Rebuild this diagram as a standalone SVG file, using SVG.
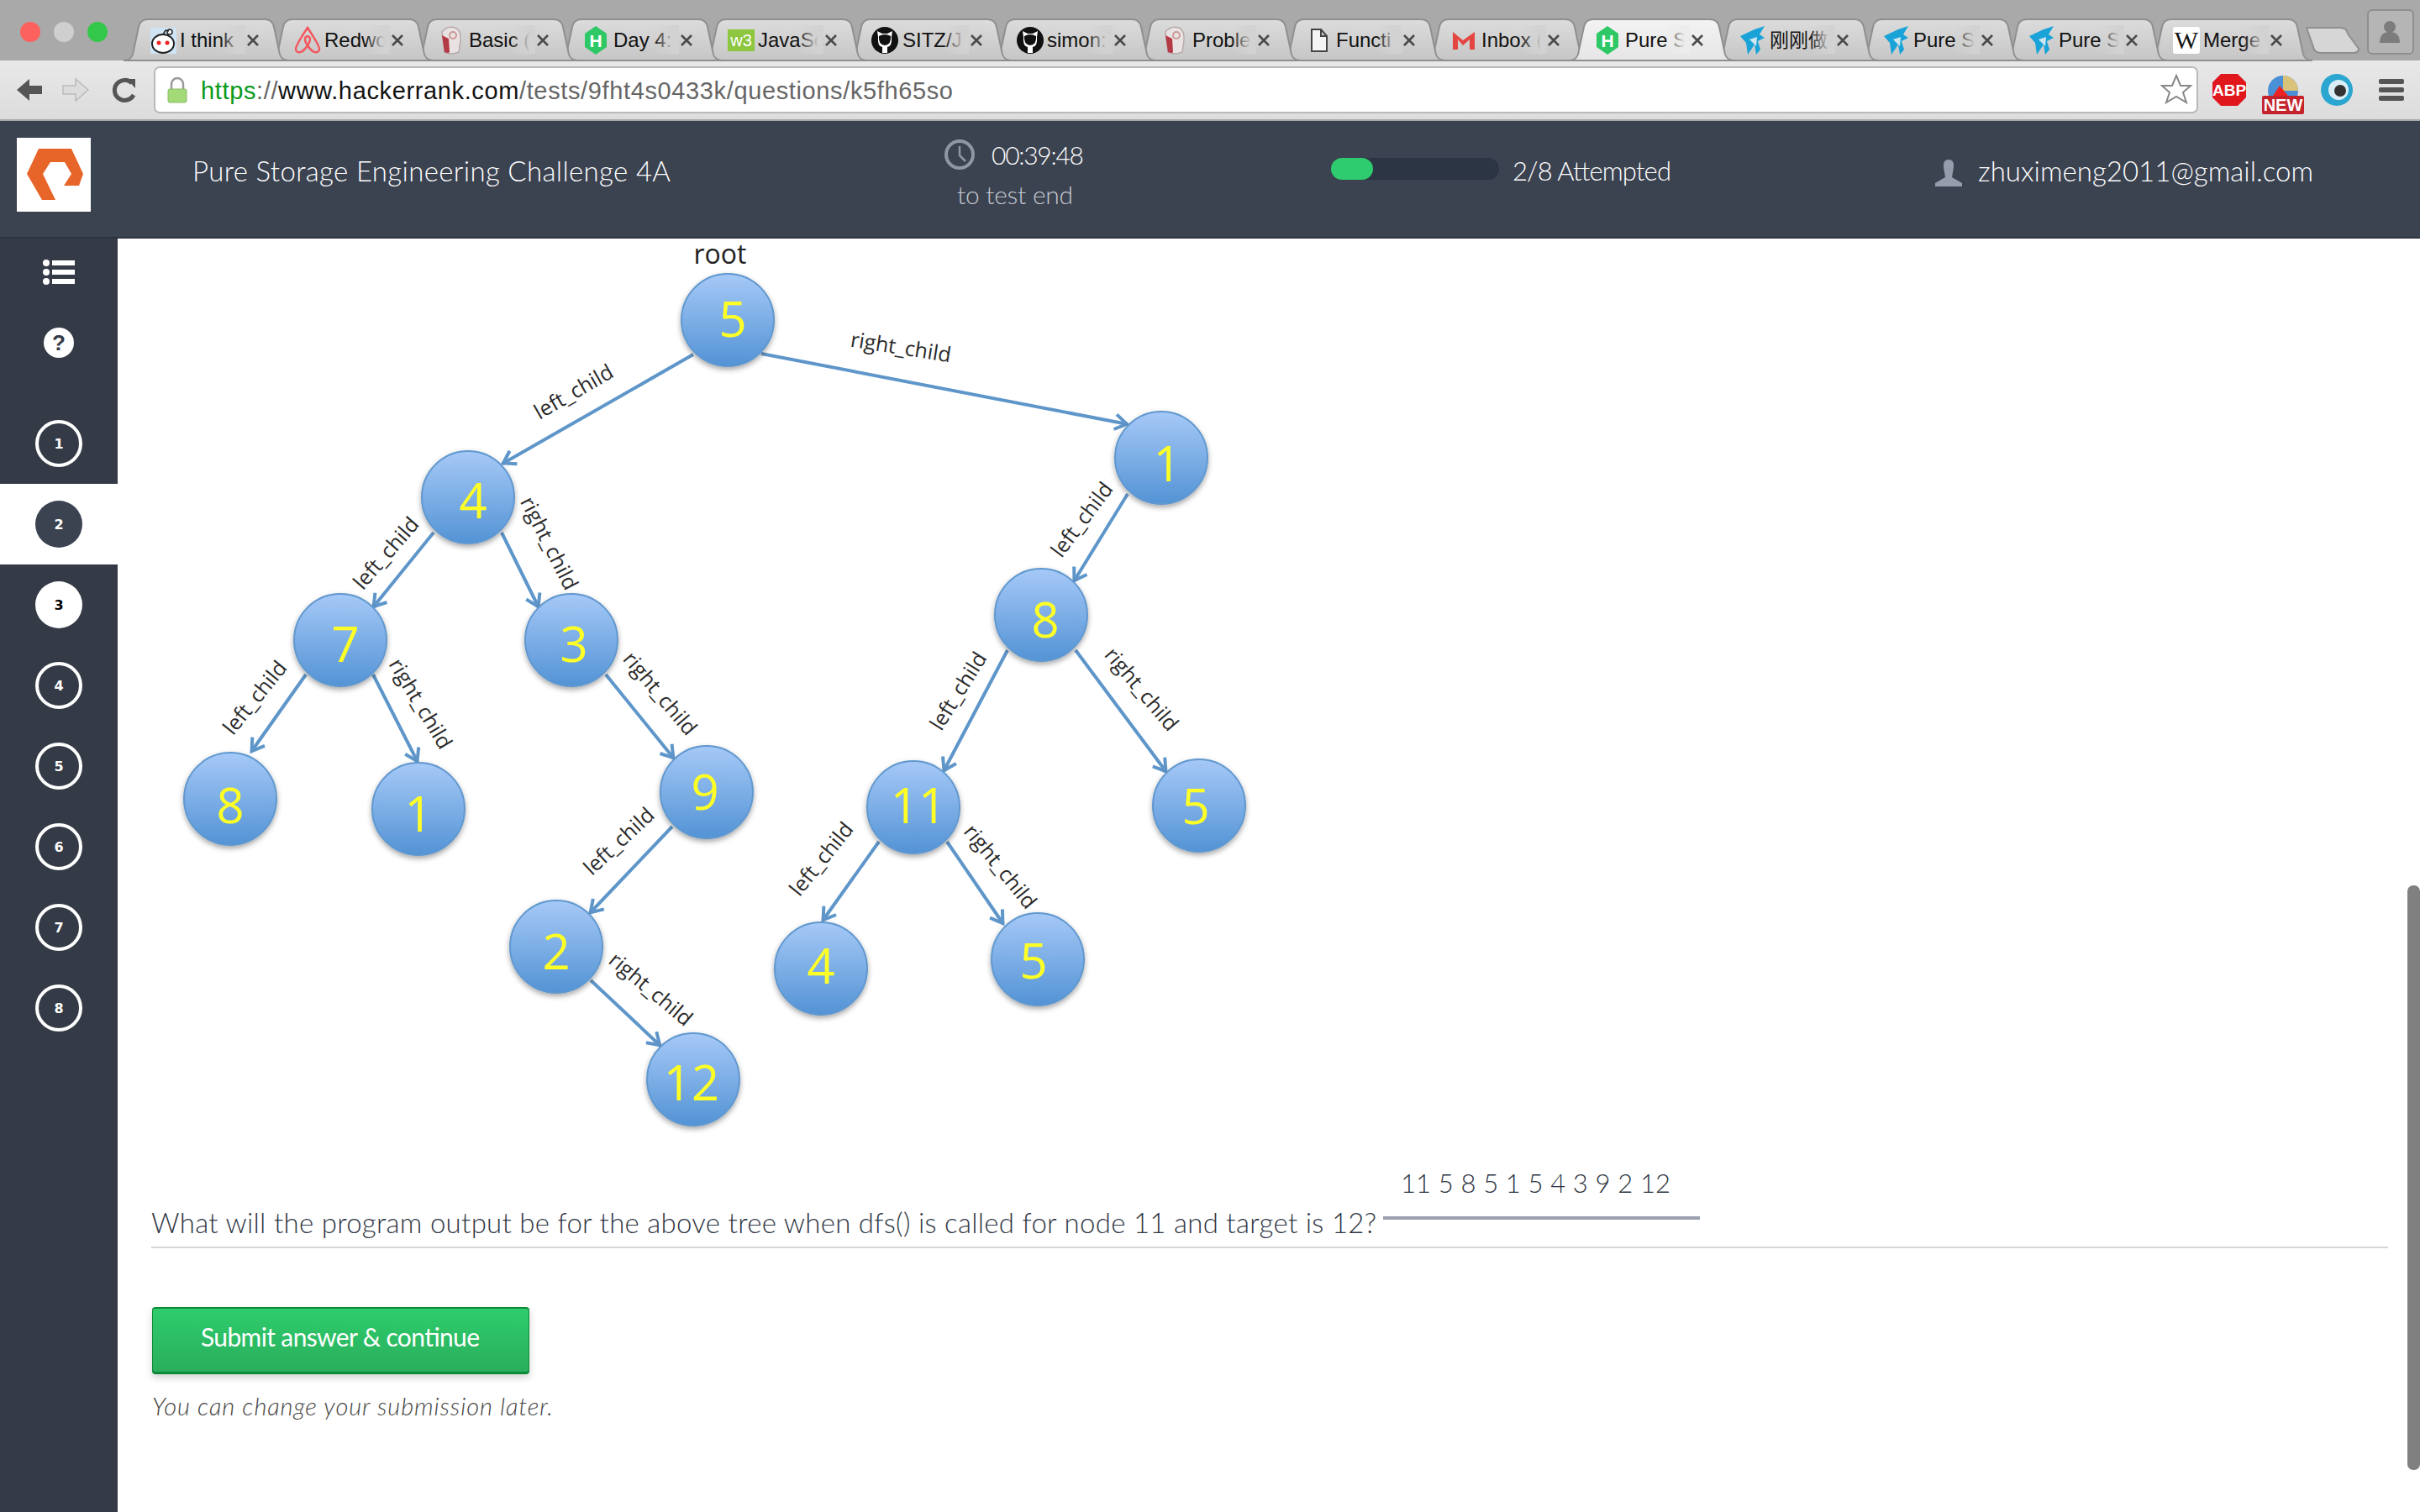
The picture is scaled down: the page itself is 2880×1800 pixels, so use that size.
<svg xmlns="http://www.w3.org/2000/svg" xmlns:xlink="http://www.w3.org/1999/xlink" width="2880" height="1800" viewBox="0 0 2880 1800">
<defs>
<linearGradient id="gTab" x1="0" y1="0" x2="0" y2="1"><stop offset="0" stop-color="#dcdcdc"/><stop offset="1" stop-color="#c6c6c6"/></linearGradient>
<linearGradient id="gActive" x1="0" y1="0" x2="0" y2="1"><stop offset="0" stop-color="#f3f3f3"/><stop offset="1" stop-color="#e6e6e6"/></linearGradient>
<linearGradient id="gBar" x1="0" y1="0" x2="0" y2="1"><stop offset="0" stop-color="#e8e8e8"/><stop offset="1" stop-color="#dcdcdc"/></linearGradient>
<linearGradient id="gNode" x1="0" y1="0" x2="0" y2="1"><stop offset="0" stop-color="#a6c9f7"/><stop offset="1" stop-color="#5393d5"/></linearGradient>
<linearGradient id="gBtn" x1="0" y1="0" x2="0" y2="1"><stop offset="0" stop-color="#2ecc6c"/><stop offset="1" stop-color="#2aae5c"/></linearGradient>
<linearGradient id="gFade" x1="0" y1="0" x2="1" y2="0"><stop offset="0" stop-color="#d2d2d2" stop-opacity="0"/><stop offset="0.8" stop-color="#d2d2d2"/></linearGradient>
<linearGradient id="gFadeA" x1="0" y1="0" x2="1" y2="0"><stop offset="0" stop-color="#ececec" stop-opacity="0"/><stop offset="0.8" stop-color="#ececec"/></linearGradient>
<filter id="shadow" x="-20%" y="-20%" width="140%" height="140%"><feDropShadow dx="0" dy="3" stdDeviation="3" flood-color="#000" flood-opacity="0.35"/></filter>
<filter id="btnShadow" x="-5%" y="-10%" width="110%" height="130%"><feDropShadow dx="0" dy="4" stdDeviation="4" flood-color="#000" flood-opacity="0.18"/></filter>
<marker id="arrow" markerUnits="userSpaceOnUse" markerWidth="30" markerHeight="30" refX="21" refY="15" orient="auto" viewBox="0 0 30 30"><path d="M6,6 L20,15 L6,24" fill="none" stroke="#5f96ca" stroke-width="4"/></marker>
<path id="tab" d="M0,72 C8,72 11,68 12,60 L18,32 Q20,23 29,23 H168 Q177,23 179,32 L185,60 C186,68 189,72 197,72 Z"/>
<g id="hex"><path d="M0,-17 L13,-8 V8 L0,17 L-13,8 V-8 Z" fill="#2ec866"/><text class="hexh" y="8">H</text></g>
<g id="gh"><circle r="16" fill="#111"/><path d="M-8,-4 L-9,-11 L-3,-8 H3 L9,-11 L8,-4 Q9,7 3,8 V15 H-3 V8 Q-9,7 -8,-4 Z" fill="#fff"/><path d="M-7,-5 Q0,-9 7,-5 Q8,5 0,6 Q-8,5 -7,-5 Z" fill="#111"/></g>
<g id="basic"><path d="M-11,-10 Q-5,-18 5,-15 Q12,-12 11,0 L9,14 Q0,18 -8,14 Z" fill="#e9e2e2" stroke="#b9a9a9" stroke-width="1.5"/><path d="M-11,-6 L-8,14 Q-3,16 -2,14 L-3,-2 Z" fill="#b33a46"/><circle cx="2" cy="-6" r="4" fill="none" stroke="#c99" stroke-width="2"/></g>
<g id="cn"><path d="M-15,-4 L2,-12 L14,-16 L8,-6 L14,-2 L6,2 L9,12 L4,18 L2,6 L-6,18 L-8,4 Z" fill="#19a3d8"/><path d="M-4,0 L5,-3 L4,8 Z" fill="#cfe6f1"/></g>
<g id="x"><path d="M-6,-6 L6,6 M6,-6 L-6,6" stroke="#4a4a4a" stroke-width="2.6" fill="none"/></g>
</defs>
<style>
text{font-family:"Liberation Sans",Arial,sans-serif}
.tabt{font-size:24px;fill:#111}
.tabc{font-family:"Noto Sans CJK SC","Liberation Sans",sans-serif;font-size:23px;fill:#111}
.hexh{font-size:21px;font-weight:700;fill:#fff;text-anchor:middle}
.hdr{font-family:Lato,"Liberation Sans",sans-serif;font-weight:300;font-size:33px;fill:#fff}
.side{font-size:16px;font-weight:700;text-anchor:middle;fill:#fff;font-family:"DejaVu Sans",sans-serif}
.ring{fill:none;stroke:#fff;stroke-width:4}
.node{fill:url(#gNode);stroke:#6098cf;stroke-width:2;filter:url(#shadow)}
.num{font-family:"Open Sans","Liberation Sans",sans-serif;font-size:58px;fill:#ffff26;text-anchor:middle}
.lbl{font-family:"Open Sans","Liberation Sans",sans-serif;font-size:25px;fill:#2a2a2a;text-anchor:middle}
.root{font-family:"Open Sans","Liberation Sans",sans-serif;font-size:32px;fill:#222;text-anchor:middle}
.edge{stroke:#5f96ca;stroke-width:4;fill:none;marker-end:url(#arrow)}
.body{font-family:Lato,"Liberation Sans",sans-serif;font-weight:300;fill:#2f3644}
.btn{font-family:Lato,"Liberation Sans",sans-serif;font-size:30px;fill:#fff}
.note{font-family:Lato,"Liberation Sans",sans-serif;font-weight:300;font-style:italic;font-size:29px;fill:#444}
.wik{font-family:"Liberation Serif",serif;font-size:30px;fill:#111;text-anchor:middle}
</style>
<rect width="2880" height="1800" fill="#fff"/>
<g id="browser-chrome">
<rect width="2880" height="74" fill="#a9a9a9"/>
<circle cx="36" cy="38" r="12" fill="#fc615d"/><circle cx="76" cy="38" r="12" fill="#cfcfcf"/><circle cx="116" cy="38" r="12" fill="#34c84a"/>
<rect y="72" width="2880" height="72" fill="url(#gBar)"/>
<rect y="142" width="2880" height="2" fill="#a8a8a8"/>
<g id="tabs" fill="url(#gTab)" stroke="#8f8f8f" stroke-width="2">
<use xlink:href="#tab" x="2555"/><use xlink:href="#tab" x="2383"/><use xlink:href="#tab" x="2211"/><use xlink:href="#tab" x="2039"/><use xlink:href="#tab" x="1695"/><use xlink:href="#tab" x="1523"/><use xlink:href="#tab" x="1351"/><use xlink:href="#tab" x="1179"/><use xlink:href="#tab" x="1007"/><use xlink:href="#tab" x="835"/><use xlink:href="#tab" x="663"/><use xlink:href="#tab" x="491"/><use xlink:href="#tab" x="319"/><use xlink:href="#tab" x="147"/>
<use xlink:href="#tab" x="1867" fill="url(#gActive)"/>
</g>
<path d="M2745,33 H2785 Q2793,33 2794,40 L2807,58 Q2807,63 2800,63 H2762 Q2754,63 2753,56 Z" fill="#d6d6d6" stroke="#8f8f8f" stroke-width="2"/>
<g id="tab-labels">
<text class="tabt" x="214" y="56">I think</text><text class="tabt" x="386" y="56">Redwo</text><text class="tabt" x="558" y="56">Basic (</text><text class="tabt" x="730" y="56">Day 4:</text><text class="tabt" x="902" y="56">JavaSc</text><text class="tabt" x="1074" y="56">SITZ/J</text><text class="tabt" x="1246" y="56">simon:</text><text class="tabt" x="1419" y="56">Proble</text><text class="tabt" x="1590" y="56">Functi</text><text class="tabt" x="1763" y="56">Inbox (</text><text class="tabt" x="1934" y="56">Pure S</text><text class="tabc" x="2106" y="56">刚刚做</text><text class="tabt" x="2277" y="56">Pure S</text><text class="tabt" x="2450" y="56">Pure S</text><text class="tabt" x="2622" y="56">Merge</text>
</g>
<g id="tab-fades" fill="url(#gFade)">
<rect x="262" y="30" width="30" height="34"/><rect x="434" y="30" width="30" height="34"/><rect x="607" y="30" width="30" height="34"/><rect x="778" y="30" width="30" height="34"/><rect x="950" y="30" width="30" height="34"/><rect x="1123" y="30" width="30" height="34"/><rect x="1294" y="30" width="30" height="34"/><rect x="1465" y="30" width="30" height="34"/><rect x="1638" y="30" width="30" height="34"/><rect x="1810" y="30" width="30" height="34"/><rect x="1981" y="30" width="30" height="34" fill="url(#gFadeA)"/><rect x="2154" y="30" width="30" height="34"/><rect x="2326" y="30" width="30" height="34"/><rect x="2498" y="30" width="30" height="34"/><rect x="2670" y="30" width="30" height="34"/>
</g>
<g id="tab-closes">
<use xlink:href="#x" x="301" y="48"/><use xlink:href="#x" x="473" y="48"/><use xlink:href="#x" x="646" y="48"/><use xlink:href="#x" x="817" y="48"/><use xlink:href="#x" x="989" y="48"/><use xlink:href="#x" x="1162" y="48"/><use xlink:href="#x" x="1333" y="48"/><use xlink:href="#x" x="1504" y="48"/><use xlink:href="#x" x="1677" y="48"/><use xlink:href="#x" x="1849" y="48"/><use xlink:href="#x" x="2020" y="48"/><use xlink:href="#x" x="2193" y="48"/><use xlink:href="#x" x="2365" y="48"/><use xlink:href="#x" x="2537" y="48"/><use xlink:href="#x" x="2709" y="48"/>
</g>
<g id="tab-icons">
<rect x="179" y="33" width="31" height="31" fill="#cfe4f5"/><ellipse cx="194" cy="52" rx="13" ry="11" fill="#fff" stroke="#222" stroke-width="2"/><circle cx="189" cy="51" r="2.5" fill="#e22"/><circle cx="199" cy="51" r="2.5" fill="#e22"/><circle cx="202" cy="38" r="3" fill="#fff" stroke="#222" stroke-width="1.5"/><path d="M194,41 L197,36 L201,37" fill="none" stroke="#222" stroke-width="1.5"/>
<path d="M366,33 C358,45 351,56 352,59 C353,64 360,64 366,54 C372,64 379,64 380,59 C381,56 374,45 366,33 Z M366,54 C362,48 362,44 366,43 C370,44 370,48 366,54 Z" fill="none" stroke="#f2585f" stroke-width="2.5"/>
<use xlink:href="#basic" x="537" y="48"/><use xlink:href="#hex" x="709" y="48"/>
<rect x="866" y="35" width="32" height="26" fill="#8dc63f"/><text x="882" y="55" font-size="20" fill="#fff" text-anchor="middle">w3</text>
<use xlink:href="#gh" x="1053" y="48"/><use xlink:href="#gh" x="1226" y="48"/><use xlink:href="#basic" x="1398" y="48"/>
<path d="M1561,35 H1572 L1579,43 V61 H1561 Z M1572,35 V43 H1579" fill="#f4f4f4" stroke="#444" stroke-width="2"/>
<path d="M1729,59 V38 L1741,48 L1755,38 V59 H1749 V47 L1741,54 L1735,47 V59 Z" fill="#e2463f"/>
<use xlink:href="#hex" x="1913" y="48"/><use xlink:href="#cn" x="2086" y="47"/><use xlink:href="#cn" x="2257" y="47"/><use xlink:href="#cn" x="2430" y="47"/>
<rect x="2586" y="32" width="32" height="32" fill="#fff" rx="3"/><text class="wik" x="2602" y="58">W</text>
</g>
<rect x="2818" y="12" width="54" height="52" rx="5" fill="#b5b5b5" stroke="#8f8f8f" stroke-width="2"/>
<circle cx="2844" cy="32" r="7" fill="#7c7c7c"/><path d="M2832,51 Q2832,38 2844,38 Q2856,38 2856,51 Z" fill="#7c7c7c"/>
<g id="toolbar-icons">
<path d="M20,107 L35,94 V102 H50 V112 H35 V120 Z" fill="#555"/>
<path d="M105,107 L90,94 V102 H75 V112 H90 V120 Z" fill="#dcdcdc" stroke="#bbb" stroke-width="1.5"/>
<path d="M157,99 A12,12 0 1 0 159,113" fill="none" stroke="#555" stroke-width="5"/><path d="M151,94 L161,94 V105 Z" fill="#555"/>
<rect x="184" y="80" width="2431" height="54" rx="6" fill="#fff" stroke="#b9b9b9" stroke-width="2"/>
<path d="M204,106 V100 A7,7 0 0 1 218,100 V106" fill="none" stroke="#9a9a9a" stroke-width="2.5"/><rect x="200" y="106" width="22" height="16" rx="2" fill="#a3d977" stroke="#8cbd64"/>
<text x="239" y="118" font-size="29" textLength="895"><tspan fill="#0a9a1a">https</tspan><tspan fill="#666">://</tspan><tspan fill="#111">www.hackerrank.com</tspan><tspan fill="#666">/tests/9fht4s0433k/questions/k5fh65so</tspan></text>
<path d="M2590,90 L2595,102 L2607,102 L2598,110 L2602,122 L2590,115 L2578,122 L2582,110 L2573,102 L2585,102 Z" fill="#fff" stroke="#888" stroke-width="2"/>
<path d="M2643,88 H2663 L2673,98 V116 L2663,126 H2643 L2633,116 V98 Z" fill="#e0181e"/><text x="2653" y="114" font-size="19" font-weight="700" fill="#fff" text-anchor="middle">ABP</text>
<circle cx="2717" cy="108" r="18" fill="#4a90d6"/><path d="M2717,90 A18,18 0 0 1 2735,108 H2717 Z" fill="#d9c27a"/><path d="M2705,114 L2713,102 L2723,114 Z" fill="#e22"/>
<rect x="2692" y="114" width="50" height="22" rx="2" fill="#c4232b"/><text x="2717" y="132" font-size="20" font-weight="700" fill="#fff" text-anchor="middle">NEW</text>
<circle cx="2781" cy="107" r="19" fill="#2aa6d0"/><circle cx="2783" cy="107" r="12" fill="#dbeef5"/><circle cx="2785" cy="108" r="7" fill="#333"/>
<g fill="#555"><rect x="2831" y="94" width="30" height="6" rx="2"/><rect x="2831" y="104" width="30" height="6" rx="2"/><rect x="2831" y="114" width="30" height="6" rx="2"/></g>
</g>
</g>
<g id="page-header">
<rect y="144" width="2880" height="140" fill="#3b4250"/><rect y="282" width="2880" height="2" fill="#2d3340"/>
<rect x="20" y="164" width="88" height="88" fill="#fff"/>
<path d="M46,177 H85 L99,207 L94,221 H76 L85,207 L77,193 H60 L51,207 L66,238 H50 L32,207 Z" fill="#e8652a"/>
<text class="hdr" x="229" y="216" textLength="569">Pure Storage Engineering Challenge 4A</text>
<circle cx="1142" cy="184" r="16" fill="none" stroke="#8f97a5" stroke-width="4"/><path d="M1142,174 V185 L1149,192" fill="none" stroke="#8f97a5" stroke-width="2.5"/>
<text class="hdr" x="1180" y="196" textLength="110" style="font-size:30px">00:39:48</text>
<text class="hdr" x="1139" y="243" textLength="138" style="font-size:30px;fill:#c4c8cf">to test end</text>
<rect x="1584" y="188" width="200" height="26" rx="13" fill="#2c3543"/><rect x="1584" y="188" width="50" height="26" rx="13" fill="#2ecc6e"/>
<text class="hdr" x="1800" y="215" textLength="189" style="font-size:31px">2/8 Attempted</text>
<path d="M2319,190 Q2326,190 2325,199 L2323,211 L2335,218 V222 H2303 V218 L2315,211 L2313,199 Q2312,190 2319,190 Z" fill="#959cab"/>
<text class="hdr" x="2354" y="216" textLength="399">zhuximeng2011@gmail.com</text>
</g>
<g id="sidebar">
<rect y="284" width="140" height="1516" fill="#343a46"/><rect y="576" width="140" height="96" fill="#fff"/>
<g fill="#fff"><circle cx="55" cy="313" r="4"/><circle cx="55" cy="324" r="4"/><circle cx="55" cy="335" r="4"/><rect x="62" y="310" width="27" height="6"/><rect x="62" y="321" width="27" height="6"/><rect x="62" y="332" width="27" height="6"/></g>
<circle cx="70" cy="408" r="18" fill="#fff"/><text x="70" y="417" font-size="26" font-weight="700" fill="#343a46" text-anchor="middle">?</text>
<circle class="ring" cx="70" cy="528" r="26"/><text class="side" x="70" y="534">1</text>
<circle cx="70" cy="624" r="28" fill="#3b4250"/><text class="side" x="70" y="630">2</text>
<circle cx="70" cy="720" r="28" fill="#fff"/><text class="side" x="70" y="726" style="fill:#000">3</text>
<circle class="ring" cx="70" cy="816" r="26"/><text class="side" x="70" y="822">4</text>
<circle class="ring" cx="70" cy="912" r="26"/><text class="side" x="70" y="918">5</text>
<circle class="ring" cx="70" cy="1008" r="26"/><text class="side" x="70" y="1014">6</text>
<circle class="ring" cx="70" cy="1104" r="26"/><text class="side" x="70" y="1110">7</text>
<circle class="ring" cx="70" cy="1200" r="26"/><text class="side" x="70" y="1206">8</text>
</g>
<g id="connectors">
<path class="edge" d="M825,422 L598,552"/><path class="edge" d="M906,421 L1342,505"/>
<path class="edge" d="M516,634 L444,723"/><path class="edge" d="M597,634 L641,723"/>
<path class="edge" d="M364,803 L299,895"/><path class="edge" d="M444,803 L497,907"/>
<path class="edge" d="M721,803 L802,903"/><path class="edge" d="M800,984 L702,1087"/>
<path class="edge" d="M703,1167 L786,1245"/><path class="edge" d="M1342,588 L1278,692"/>
<path class="edge" d="M1199,774 L1123,918"/><path class="edge" d="M1280,774 L1388,919"/>
<path class="edge" d="M1046,1002 L979,1096"/><path class="edge" d="M1127,1002 L1194,1100"/>
</g>
<g id="edge-labels">
<text class="root" x="857" y="314">root</text>
<text class="lbl" transform="translate(683,467) rotate(-30)" y="8">left_child</text>
<text class="lbl" transform="translate(1072,414) rotate(9)" y="8">right_child</text>
<text class="lbl" transform="translate(460,659) rotate(-49)" y="8">left_child</text>
<text class="lbl" transform="translate(653,647) rotate(63)" y="8">right_child</text>
<text class="lbl" transform="translate(304,831) rotate(-51)" y="8">left_child</text>
<text class="lbl" transform="translate(500,838) rotate(59)" y="8">right_child</text>
<text class="lbl" transform="translate(785,826) rotate(50)" y="8">right_child</text>
<text class="lbl" transform="translate(737,1002) rotate(-43)" y="8">left_child</text>
<text class="lbl" transform="translate(774,1178) rotate(40)" y="8">right_child</text>
<text class="lbl" transform="translate(978,1023) rotate(-51)" y="8">left_child</text>
<text class="lbl" transform="translate(1190,1032) rotate(51)" y="8">right_child</text>
<text class="lbl" transform="translate(1288,619) rotate(-53)" y="8">left_child</text>
<text class="lbl" transform="translate(1141,823) rotate(-58)" y="8">left_child</text>
<text class="lbl" transform="translate(1358,821) rotate(50)" y="8">right_child</text>
</g>
<g id="node-5-root"><circle class="node" cx="866" cy="381" r="55"/><text class="num" x="872" y="401">5</text></g>
<g id="node-4"><circle class="node" cx="557" cy="592" r="55"/><text class="num" x="563" y="617">4</text></g>
<g id="node-1-right"><circle class="node" cx="1382" cy="545" r="55"/><text class="num" x="1389" y="573">1</text></g>
<g id="node-7"><circle class="node" cx="405" cy="762" r="55"/><text class="num" x="411" y="788">7</text></g>
<g id="node-3"><circle class="node" cx="680" cy="762" r="55"/><text class="num" x="683" y="788">3</text></g>
<g id="node-8-right"><circle class="node" cx="1239" cy="732" r="55"/><text class="num" x="1244" y="759">8</text></g>
<g id="node-8-left"><circle class="node" cx="274" cy="951" r="55"/><text class="num" x="274" y="980">8</text></g>
<g id="node-1-left"><circle class="node" cx="498" cy="963" r="55"/><text class="num" x="498" y="990">1</text></g>
<g id="node-9"><circle class="node" cx="841" cy="943" r="55"/><text class="num" x="839" y="964">9</text></g>
<g id="node-11"><circle class="node" cx="1087" cy="961" r="55"/><text class="num" x="1093" y="980">11</text></g>
<g id="node-5-right"><circle class="node" cx="1427" cy="959" r="55"/><text class="num" x="1423" y="981">5</text></g>
<g id="node-2"><circle class="node" cx="662" cy="1127" r="55"/><text class="num" x="662" y="1154">2</text></g>
<g id="node-4-low"><circle class="node" cx="977" cy="1153" r="55"/><text class="num" x="977" y="1171">4</text></g>
<g id="node-5-low"><circle class="node" cx="1235" cy="1142" r="55"/><text class="num" x="1230" y="1165">5</text></g>
<g id="node-12"><circle class="node" cx="825" cy="1285" r="55"/><text class="num" x="823" y="1310">12</text></g>
<g id="question">
<text class="body" x="1667" y="1420" textLength="321" style="font-size:31px">11 5 8 5 1 5 4 3 9 2 12</text>
<rect x="1646" y="1448" width="377" height="4" fill="#9aa0b0"/>
<text class="body" x="180" y="1468" textLength="1458" style="font-size:33px">What will the program output be for the above tree when dfs() is called for node 11 and target is 12?</text>
<rect x="180" y="1484" width="2662" height="2" fill="#d6d6d6"/>
<rect x="181" y="1556" width="449" height="80" rx="4" fill="#0f8a38" filter="url(#btnShadow)"/><rect x="182" y="1558" width="447" height="75" rx="3" fill="url(#gBtn)"/>
<text class="btn" x="239" y="1603" textLength="332">Submit answer &amp; continue</text>
<text class="note" x="181" y="1685" textLength="477">You can change your submission later.</text>
</g>
<rect id="scrollbar" x="2865" y="1054" width="15" height="696" rx="7" fill="#808080"/>
</svg>
